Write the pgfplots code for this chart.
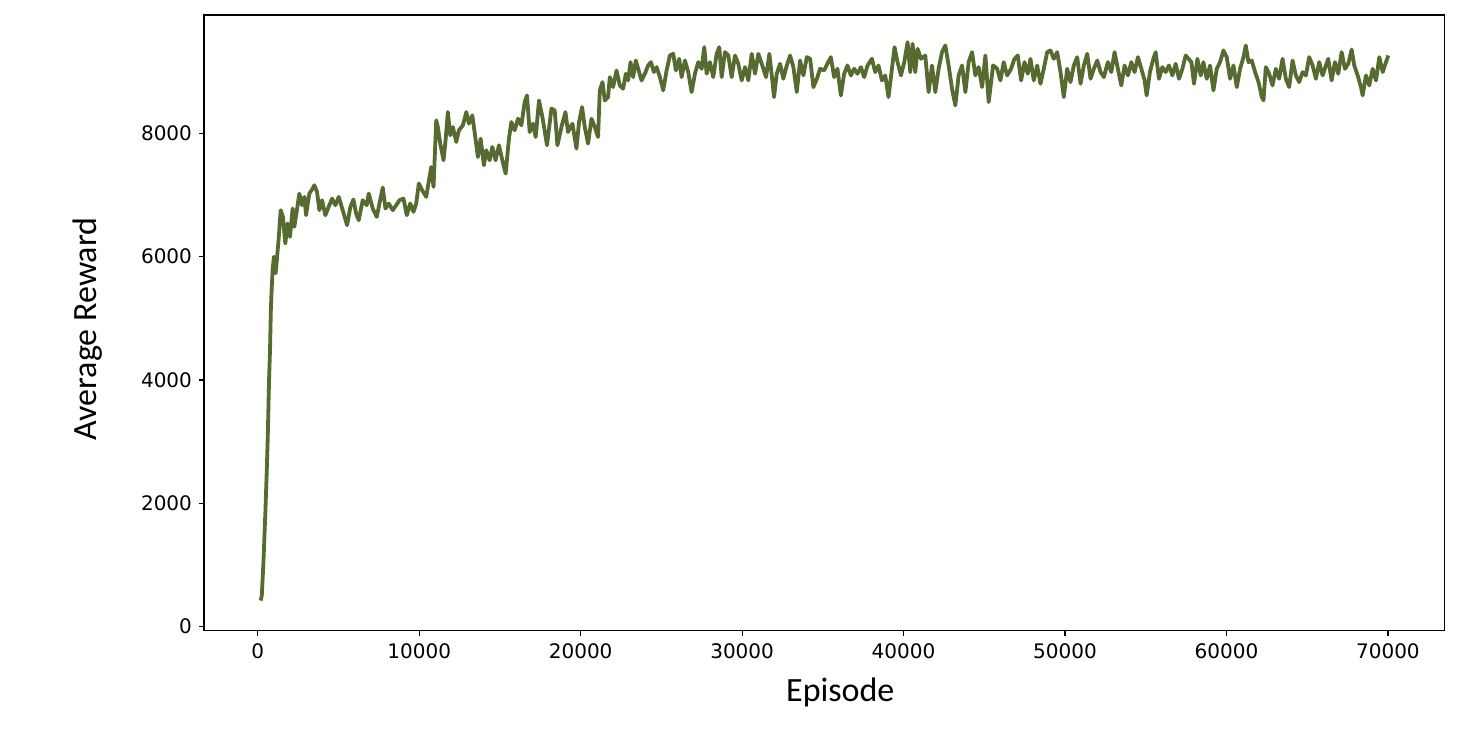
\documentclass[border=0pt]{standalone}
\usepackage{pgfplots}
\pgfplotsset{compat=1.18}
\usepackage{fontspec}
\setmainfont{DejaVu Sans}
\newfontfamily\calibri{Carlito}
\definecolor{olive}{HTML}{556B2F}
\begin{document}
\begin{tikzpicture}
\path[use as bounding box] (-102pt,-50.15pt) rectangle (636pt,315.4pt);
\begin{axis}[
  at={(0pt,0pt)}, anchor=south west,
  scale only axis, width=620.2pt, height=307.9pt,
  xmin=-3330, xmax=73500, ymin=-70, ymax=9920,
  xtick={0,10000,...,70000}, ytick={0,2000,...,8000},
  scaled ticks=false,
  /pgf/number format/assume math mode=true,
  /pgf/number format/set thousands separator={},
  tick align=outside, major tick length=2.5pt,
  tick style={black, line width=0.6pt},
  axis line style={black, line width=0.65pt},
  xtick pos=bottom, ytick pos=left,
  ticklabel style={font=\fontsize{10}{12}\selectfont},
  xticklabel style={yshift=-0.6pt},
  xlabel={\calibri\fontsize{17}{20}\selectfont Episode},
  ylabel={\calibri\fontsize{17}{20}\selectfont Average Reward},
  xlabel style={at={(axis description cs:0.513,-0.1005)}, anchor=center},
  ylabel style={at={(axis description cs:-0.0936,0.490)}, anchor=center, rotate=0},
]
\addplot[color=olive, line width=1.9pt, line join=round] table {
x y
180 420
250 500
350 1030
470 1840
560 2540
620 3080
700 4000
760 4490
810 5130
860 5460
920 5780
1000 6000
1110 5730
1200 6000
1320 6375
1420 6753
1560 6645
1706 6213
1850 6537
1997 6321
2160 6780
2264 6483
2408 6726
2574 7023
2740 6834
2885 6969
2990 6672
3195 7023
3400 7104
3505 7158
3672 7050
3815 6753
3982 6915
4187 6672
4392 6807
4603 6942
4808 6834
5014 6969
5262 6753
5533 6510
5738 6807
5924 6926
6092 6699
6253 6591
6501 6915
6749 6834
6873 7023
7122 6780
7370 6645
7580 6915
7742 7120
7909 6780
8114 6861
8362 6753
8573 6834
8778 6915
9026 6942
9231 6672
9442 6861
9646 6726
9814 6861
9975 7185
10186 7077
10434 6969
10744 7454
10887 7131
11055 8211
11154 8102
11303 7833
11508 7563
11632 7887
11774 8345
11923 7968
12085 8102
12296 7860
12457 8049
12705 8130
12916 8345
13077 8157
13288 8292
13431 8021
13636 7616
13803 7914
14008 7482
14156 7725
14361 7563
14529 7779
14733 7563
14938 7806
15149 7563
15354 7347
15558 7914
15707 8183
15912 8049
16117 8238
16328 8130
16532 8507
16675 8615
16843 8021
17047 8157
17215 7940
17420 8534
17630 8264
17916 7806
18189 8400
18393 8372
18561 7806
18809 8102
19057 8345
19219 8021
19491 8157
19739 7752
19901 8183
20087 8426
20254 8102
20459 7833
20670 8238
20874 8102
21079 7940
21185 8696
21352 8831
21495 8534
21700 8588
21805 8912
22011 8750
22221 9020
22426 8777
22630 8723
22798 8967
22940 8858
23089 9155
23251 8912
23418 9182
23561 9047
23772 8858
23977 8967
24181 9101
24349 9155
24535 8993
24702 9074
24907 8912
25112 8696
25323 9020
25527 9263
25732 9290
25899 9020
26104 9209
26253 8912
26458 9182
26663 8993
26873 8669
27078 8967
27283 9155
27494 9047
27655 9398
27804 8967
28009 9155
28213 8912
28424 9290
28585 9398
28735 8912
28939 9317
29144 9263
29355 8912
29560 9263
29764 9128
29975 8858
30180 9074
30385 8858
30596 9290
30800 8967
31005 9290
31216 9128
31483 8912
31687 9290
31873 8858
31978 8588
32146 8967
32351 9128
32556 8885
32767 9101
32972 9263
33176 9074
33387 8669
33592 9182
33797 8939
34008 9236
34213 9209
34417 8750
34628 8885
34833 9047
35081 9020
35285 9128
35496 9236
35701 8912
35906 9047
36117 8615
36321 8967
36526 9101
36737 8939
36942 9047
37146 8967
37357 9074
37562 8912
37767 9101
38039 9209
38244 8993
38449 9101
38660 8858
38865 8939
39069 8588
39280 9047
39442 9398
39628 9155
39839 8939
40043 9155
40248 9479
40416 8993
40559 9452
40726 8993
40869 9371
41080 9209
41346 9263
41551 8669
41762 9101
41967 8669
42171 9047
42382 9317
42587 9425
42792 9101
43002 8723
43207 8453
43412 8939
43623 9101
43828 8669
44033 9155
44243 9317
44448 8939
44653 9074
44864 8750
45069 9263
45273 8507
45546 9101
45794 9050
45999 8858
46203 9155
46414 8939
46662 9047
46867 9209
47072 9263
47283 8858
47488 9155
47692 8967
47860 9209
48065 8858
48276 9101
48480 8804
48685 9047
48896 9317
49101 9344
49305 9209
49516 9317
49721 8993
49926 8588
50136 9047
50341 8831
50546 9101
50757 9236
50962 8804
51166 9101
51377 9290
51582 8885
51787 9047
51998 9182
52202 8993
52407 8912
52655 9155
52866 8993
53071 9317
53275 9047
53486 8777
53691 9101
53896 8939
54107 9155
54311 8993
54516 9236
54727 9047
54932 8858
55056 8615
55261 8993
55471 9209
55614 9317
55819 8885
56030 9074
56235 8993
56439 9101
56650 8939
56855 9128
57060 8885
57271 9047
57475 9263
57829 9155
57990 8804
58201 9209
58406 8939
58573 9155
58778 8885
58983 9101
59194 8696
59398 9047
59603 9155
59814 9344
60019 9236
60223 8885
60434 9101
60639 8750
60844 9047
61055 9236
61197 9425
61365 9155
61569 9182
61774 8993
61985 8831
62190 8588
62295 8534
62438 9074
62643 8967
62854 8777
63058 9047
63263 8885
63474 9209
63679 8885
63884 8750
64095 9182
64299 8939
64504 8831
64715 8993
64920 8939
65124 9236
65335 9101
65540 8885
65745 9155
65956 8939
66160 9101
66303 9209
66514 8858
66719 9155
66924 8967
67135 9317
67339 9047
67544 9128
67755 9360
67916 9101
68127 8939
68331 8750
68436 8615
68641 8939
68846 8777
69057 9047
69262 8858
69467 9236
69678 8993
69882 9155
70025 9263
};
\end{axis}
\end{tikzpicture}
\end{document}
